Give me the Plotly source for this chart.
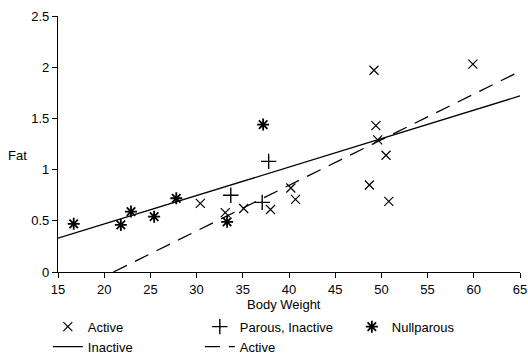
import plotly.graph_objects as go

# ---- data ----
active_x = [30.4, 33.1, 35.1, 38.0, 40.2, 40.7, 48.7, 50.8, 49.2, 59.9, 49.4, 49.6, 50.5]
active_y = [0.67, 0.58, 0.62, 0.61, 0.82, 0.71, 0.85, 0.69, 1.97, 2.03, 1.43, 1.29, 1.14]

parous_x = [33.7, 37.1, 37.8]
parous_y = [0.75, 0.68, 1.08]

null_x = [16.7, 21.8, 22.9, 25.4, 27.8, 33.3, 37.2]
null_y = [0.47, 0.46, 0.59, 0.54, 0.72, 0.49, 1.44]

fit_inactive_x = [15, 65]
fit_inactive_y = [0.33, 1.72]

fit_active_x = [21.0, 65]
fit_active_y = [0.0, 1.96]

x_ticks = [15, 20, 25, 30, 35, 40, 45, 50, 55, 60, 65]
y_ticks = [0, 0.5, 1, 1.5, 2, 2.5]

FONT = "Liberation Sans, Arial, sans-serif"

fig = go.Figure()
fig.add_trace(go.Scatter(x=active_x, y=active_y, mode="markers", name="Active",
                         marker=dict(symbol="x-thin-open", size=9, color="black",
                                     line=dict(width=1.2, color="black"))))
fig.add_trace(go.Scatter(x=parous_x, y=parous_y, mode="markers", name="Parous, Inactive",
                         marker=dict(symbol="cross-thin-open", size=11, color="black",
                                     line=dict(width=1.4, color="black"))))
fig.add_trace(go.Scatter(x=null_x, y=null_y, mode="markers", name="Nullparous",
                         marker=dict(symbol="asterisk-open", size=10, color="black",
                                     line=dict(width=1.8, color="black"))))
fig.add_trace(go.Scatter(x=fit_inactive_x, y=fit_inactive_y, mode="lines", name="Inactive",
                         line=dict(color="black", width=1.3)))
fig.add_trace(go.Scatter(x=fit_active_x, y=fit_active_y, mode="lines", name="Active ",
                         line=dict(color="black", width=1.3, dash="15px,9px")))

axis_common = dict(showline=True, linecolor="black", linewidth=1.3, ticks="outside",
                   ticklen=5, tickcolor="black", tickwidth=1.3, showgrid=False,
                   zeroline=False, tickfont=dict(family=FONT, size=13, color="black"))

fig.update_xaxes(range=[15, 65], tickvals=x_ticks, **axis_common)
fig.update_yaxes(range=[0, 2.5], tickvals=y_ticks, **axis_common)

fig.update_layout(
    width=528, height=354,
    margin=dict(l=58, r=8, t=16, b=82, autoexpand=False),
    paper_bgcolor="white", plot_bgcolor="white",
    font=dict(family=FONT, size=13, color="black"),
    showlegend=True,
    legend=dict(orientation="h", x=-0.022, xanchor="left", y=-0.155, yanchor="top",
                entrywidth=107, entrywidthmode="pixels",
                font=dict(family=FONT, size=13, color="black"),
                bgcolor="rgba(0,0,0,0)"),
    annotations=[
        dict(text="Body Weight", xref="paper", yref="paper", x=0.49, y=-0.127,
             xanchor="center", yanchor="middle", showarrow=False,
             font=dict(family=FONT, size=13, color="black")),
        dict(text="Fat", xref="paper", yref="paper", x=-0.087, y=0.457,
             xanchor="center", yanchor="middle", showarrow=False,
             font=dict(family=FONT, size=13, color="black")),
    ],
)

fig.write_html("out.html",
               config={"displayModeBar": False},
               post_script="document.body.style.margin='0';document.body.style.overflow='hidden';")
